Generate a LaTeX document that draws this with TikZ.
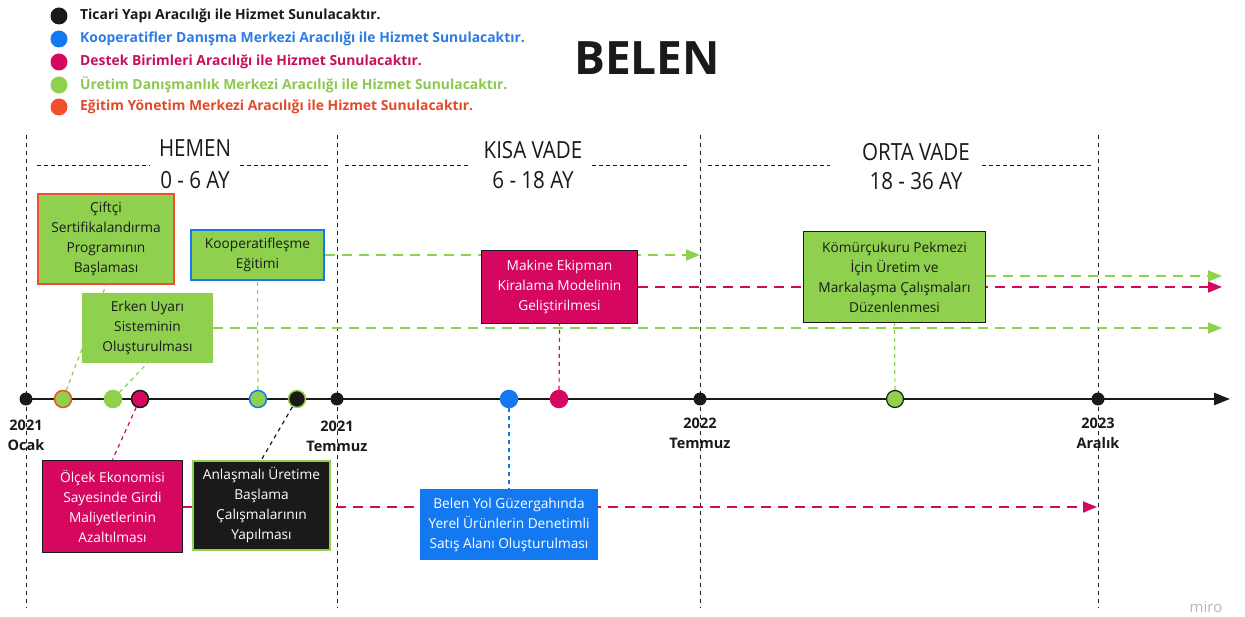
\documentclass[tikz,border=0pt]{standalone}
\usepackage{fontspec}
\setmainfont{Open Sans}
\newfontfamily\condfont[FakeStretch=0.87]{Open Sans}
\usetikzlibrary{arrows.meta,backgrounds}
\definecolor{mgreen}{HTML}{8FD14F}
\definecolor{mgreentxt}{HTML}{8CC850}
\definecolor{mpink}{HTML}{D6075F}
\definecolor{mpinktxt}{HTML}{C8105A}
\definecolor{mblue}{HTML}{1479F0}
\definecolor{mbluetxt}{HTML}{2D7BE5}
\definecolor{morange}{HTML}{F0502D}
\definecolor{morangetxt}{HTML}{E24A2B}
\definecolor{mblack}{HTML}{1A1A1A}
\begin{document}
\begin{tikzpicture}[x=1pt,y=-1pt,
  box/.style={rectangle, inner sep=0pt, align=center, font=\fontsize{13.7}{20}\selectfont},
  greenbox/.style={box, fill=mgreen, text=mblack},
  pinkbox/.style={box, fill=mpink, text=white, draw=mblack, line width=1.5pt},
  evdot/.style={circle, minimum size=17pt, inner sep=0pt, line width=1.5pt},
  tickdot/.style={circle, fill=mblack, minimum size=13pt, inner sep=0pt},
  legdot/.style={circle, minimum size=17pt, inner sep=0pt},
  legtext/.style={anchor=west, inner sep=0pt, font=\bfseries\fontsize{13.9}{16}\selectfont},
  datelbl/.style={align=center, inner sep=0pt, text=mblack, font=\bfseries\fontsize{14.5}{20}\selectfont},
  period/.style={align=center, inner sep=0pt, text=mblack, font=\condfont\fontsize{23.6}{32}\selectfont},
  vline/.style={mblack, line width=0.9pt, dash pattern=on 4pt off 4pt},
  hline/.style={mblack, line width=0.9pt, dash pattern=on 4pt off 3pt},
  flow/.style={line width=2pt, dash pattern=on 10pt off 7pt, -{Triangle[length=14pt,width=11pt]}},
  link/.style={line width=1.2pt, dash pattern=on 4pt off 4pt}
]
\useasboundingbox (0,0) rectangle (1245,617);

% legend
\node[legdot, fill=mblack] (l1) at (59,16) {};
\node[legtext, text=mblack] (t1) at (80,16) {Ticari Yapı Aracılığı ile Hizmet Sunulacaktır.};
\node[legdot, fill=mblue] (l2) at (59,39) {};
\node[legtext, text=mbluetxt] (t2) at (80,39) {Kooperatifler Danışma Merkezi Aracılığı ile Hizmet Sunulacaktır.};
\node[legdot, fill=mpink] (l3) at (59,62) {};
\node[legtext, text=mpinktxt] (t3) at (80,62) {Destek Birimleri Aracılığı ile Hizmet Sunulacaktır.};
\node[legdot, fill=mgreen] (l4) at (59,85) {};
\node[legtext, text=mgreentxt] (t4) at (80,85) {Üretim Danışmanlık Merkezi Aracılığı ile Hizmet Sunulacaktır.};
\node[legdot, fill=morange] (l5) at (59,107) {};
\node[legtext, text=morangetxt] (t5) at (80,107) {Eğitim Yönetim Merkezi Aracılığı ile Hizmet Sunulacaktır.};

% title
\node[inner sep=0pt, text=mblack, font=\bfseries\fontsize{46}{52}\selectfont] (title) at (647,58) {BELEN};

% periods
\node[period] (p1a) at (195,148) {HEMEN};
\node[period] (p1b) at (195,180) {0 - 6 AY};
\node[period] (p2a) at (533,150) {KISA VADE};
\node[period] (p2b) at (533,180) {6 - 18 AY};
\node[period] (p3a) at (916,152) {ORTA VADE};
\node[period] (p3b) at (916,181) {18 - 36 AY};

% boxes
\node[greenbox, draw=morange, line width=2.5pt, minimum width=136pt, minimum height=90pt] (ciftci) at (106,239) {Çiftçi\\Sertifikalandırma\\Programının\\Başlaması};
\node[greenbox, draw=mblue, line width=2.5pt, minimum width=133pt, minimum height=50pt] (koop) at (257.5,255) {Kooperatifleşme\\Eğitimi};
\node[greenbox, minimum width=131pt, minimum height=70pt] (erken) at (147.5,328) {Erken Uyarı\\Sisteminin\\Oluşturulması};
\node[pinkbox, minimum width=156pt, minimum height=73pt] (makine) at (559.5,287) {Makine Ekipman\\Kiralama Modelinin\\Geliştirilmesi};
\node[greenbox, draw=mblack, line width=1.5pt, minimum width=182pt, minimum height=91pt] (komur) at (894.5,277) {Kömürçukuru Pekmezi\\İçin Üretim ve\\Markalaşma Çalışmaları\\Düzenlenmesi};
\node[pinkbox, minimum width=140pt, minimum height=92pt] (olcek) at (112.5,506.5) {Ölçek Ekonomisi\\Sayesinde Girdi\\Maliyetlerinin\\Azaltılması};
\node[box, fill=mblack, text=white, draw=mgreen, line width=2.5pt, minimum width=137pt, minimum height=89pt] (anlas) at (261.5,505.5) {Anlaşmalı Üretime\\Başlama\\Çalışmalarının\\Yapılması};
\node[box, fill=mblue, text=white, minimum width=178pt, minimum height=71pt] (belen) at (509,524.5) {Belen Yol Güzergahında\\Yerel Ürünlerin Denetimli\\Satış Alanı Oluşturulması};

% timeline ticks
\node[tickdot] (k1) at (26,399) {};
\node[tickdot] (k2) at (337,399) {};
\node[tickdot] (k3) at (700,399) {};
\node[tickdot] (k4) at (1098,399) {};
\coordinate (tlend) at (1230,399);

% event dots
\node[evdot, fill=mgreen, draw=morange] (d1) at (63,399) {};
\node[evdot, fill=mgreen, draw=mgreen] (d2) at (113,399) {};
\node[evdot, fill=mpink, draw=mblack] (d3) at (140,399) {};
\node[evdot, fill=mgreen, draw=mblue] (d4) at (258,399) {};
\node[evdot, fill=mblack, draw=mgreen] (d5) at (297,399) {};
\node[evdot, fill=mblue, draw=mblue] (d6) at (509,399) {};
\node[evdot, fill=mpink, draw=mpink] (d7) at (559,399) {};
\node[evdot, fill=mgreen, draw=mblack, line width=1.2pt] (d8) at (895,399) {};

% date labels
\node[datelbl] (dl1) at (26,435) {2021\\Ocak};
\node[datelbl] (dl2) at (337,436) {2021\\Temmuz};
\node[datelbl] (dl3) at (700,433) {2022\\Temmuz};
\node[datelbl] (dl4) at (1098,433) {2023\\Aralık};

% watermark
\node[inner sep=0pt, text=black!28, font=\fontsize{15}{18}\selectfont] (miro) at (1206,607) {miro};

% arrow ends
\coordinate (e1) at (700,255);
\coordinate (e2) at (1222,328);
\coordinate (e3) at (1222,287);
\coordinate (e4) at (1222,276);
\coordinate (e5) at (1097,507);

\begin{scope}[on background layer]
  \fill[white] (0,0) rectangle (1245,617);
  % period lines
  \foreach \x in {26,337,700,1098} {\draw[vline] (\x,135) -- (\x,608);}
  \draw[hline] (37,165) -- (150,165);
  \draw[hline] (240,165) -- (329,165);
  \draw[hline] (345,165) -- (470,165);
  \draw[hline] (592,165) -- (690,165);
  \draw[hline] (708,165) -- (830,165);
  \draw[hline] (982,165) -- (1093,165);
  % flows
  \draw[flow, mgreen] (koop.east) -- (e1);
  \draw[flow, mgreen] (erken.east) -- (e2);
  \draw[flow, mpink] (makine.east) -- (e3);
  \draw[flow, mgreen] (komur.east |- e4) -- (e4);
  \draw[flow, mpink] (olcek.east |- e5) -- (e5);
  % links
  \draw[link, mgreen] (d1) -- (ciftci.south);
  \draw[link, mgreen] (d2) -- (erken.south);
  \draw[link, mgreen] (d4) -- (koop.south);
  \draw[link, mgreen] (d8) -- (komur.south);
  \draw[link, mpink] (d7) -- (makine.south);
  \draw[link, mpink] (d3) -- (olcek.north);
  \draw[link, mblack] (d5) -- (anlas.north);
  \draw[link, mblue] (d6) -- (belen.north);
  % timeline
  \draw[mblack, line width=2.5pt, -{Triangle[length=16pt,width=12pt]}] (k1.center) -- (tlend);
\end{scope}
\end{tikzpicture}
\end{document}
